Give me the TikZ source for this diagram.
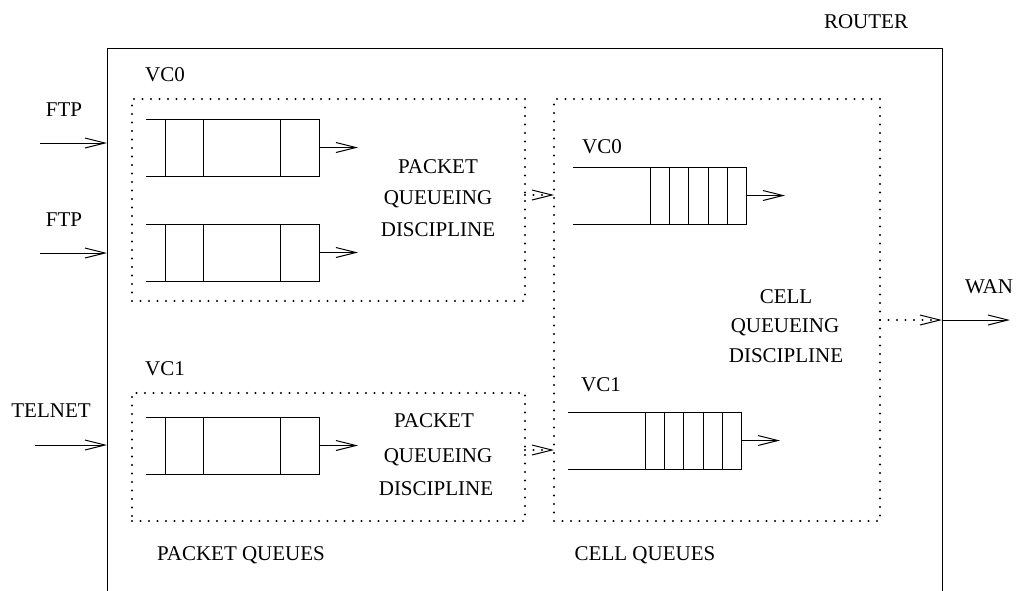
\documentclass[tikz,border=0pt]{standalone}
\usepackage{fontspec}
\setmainfont{Liberation Serif}
\usetikzlibrary{arrows.meta}
\begin{document}
\begin{tikzpicture}[x=1pt,y=-1pt,line width=1pt,
  lbl/.style={font=\fontsize{21}{24}\selectfont, inner sep=0pt, text height=13.9pt, text depth=0pt},
  dotbox/.style={draw, line width=2.3pt, line cap=round, dash pattern=on 0pt off 8.5pt},
  arr/.style={-{Straight Barb[length=20pt,width=10pt,line width=1pt]}},
  box/.style={inner sep=0pt, outer sep=0pt, anchor=north west},
  pktq/.pic={
    \draw (0,0) -- (173,0) -- (173,57) -- (0,57);
    \draw (19,0) -- (19,57) (57,0) -- (57,57) (134,0) -- (134,57);
    \coordinate (-out) at (173,28.5);
  },
  cellq/.pic={
    \draw (0,0) -- (173,0) -- (173,57) -- (0,57);
    \foreach \v in {77,96,115,135,154} {\draw (\v,0) -- (\v,57);}
    \coordinate (-out) at (173,28.5);
  }
]
\useasboundingbox (0,0) rectangle (1016,590);

% router (open at the bottom: its lower edge is outside the page)
\node[draw, box, minimum width=835pt, minimum height=600pt] (router) at (107,48) {};
\node[lbl] (routerl) at (866,22) {ROUTER};

% dotted boxes
\node[dotbox, box, minimum width=393pt, minimum height=202pt] (pk0) at (132,99) {};
\node[dotbox, box, minimum width=393pt, minimum height=128pt] (pk1) at (132,393) {};
\node[dotbox, box, minimum width=326pt, minimum height=422pt] (cell) at (554,99) {};

% packet queues
\pic (q1) at (146,119) {pktq};
\pic (q2) at (146,224) {pktq};
\pic (q3) at (146,417) {pktq};
\draw[arr] (q1-out) -- ++(39,0);
\draw[arr] (q2-out) -- ++(39,0);
\draw[arr] (q3-out) -- ++(39,0);

% cell queues
\pic (c0) at (573,167) {cellq};
\pic (c1) at (568,412) {cellq};
\draw[arr] (c0-out) -- ++(39,0);
\draw[arr] (c1-out) -- ++(39,0);

% inputs
\coordinate (ftp1s) at (40,143);
\coordinate (ftp2s) at (40,253);
\coordinate (tels) at (35,445);
\draw[arr] (ftp1s) -- (router.west |- ftp1s);
\draw[arr] (ftp2s) -- (router.west |- ftp2s);
\draw[arr] (tels) -- (router.west |- tels);
\node[lbl] (ftp1) at (64,110) {FTP};
\node[lbl] (ftp2) at (64,220) {FTP};
\node[lbl] (tel) at (51,411) {TELNET};

% box to box
\coordinate (m0) at (0,195);
\coordinate (m1) at (0,450);
\draw[dotbox, arr] (pk0.east |- m0) -- (cell.west |- m0);
\draw[dotbox, arr] (pk1.east |- m1) -- (cell.west |- m1);

% output
\coordinate (wy) at (0,320);
\coordinate (wanend) at (1010,320);
\draw[dotbox, arr] (cell.east |- wy) -- (router.east |- wy);
\draw[arr] (router.east |- wy) -- (wanend);
\node[lbl] (wan) at (989,287) {WAN};

% labels
\node[lbl] (vc0a) at (165,75) {VC0};
\node[lbl] (vc1a) at (165,369) {VC1};
\node[lbl] (vc0b) at (602,147) {VC0};
\node[lbl] (vc1b) at (601,385) {VC1};

\node[lbl] (pqd0a) at (438,167) {PACKET};
\node[lbl] (pqd0b) at (438,198) {QUEUEING};
\node[lbl] (pqd0c) at (438,230) {DISCIPLINE};
\node[lbl] (pqd1a) at (434,421) {PACKET};
\node[lbl] (pqd1b) at (438,456) {QUEUEING};
\node[lbl] (pqd1c) at (436,489) {DISCIPLINE};
\node[lbl] (cqda) at (786,297) {CELL};
\node[lbl] (cqdb) at (785,326) {QUEUEING};
\node[lbl] (cqdc) at (786,356) {DISCIPLINE};

\node[lbl] (pq) at (241,554) {PACKET QUEUES};
\node[lbl] (cq) at (645,554) {CELL QUEUES};
\end{tikzpicture}
\end{document}
